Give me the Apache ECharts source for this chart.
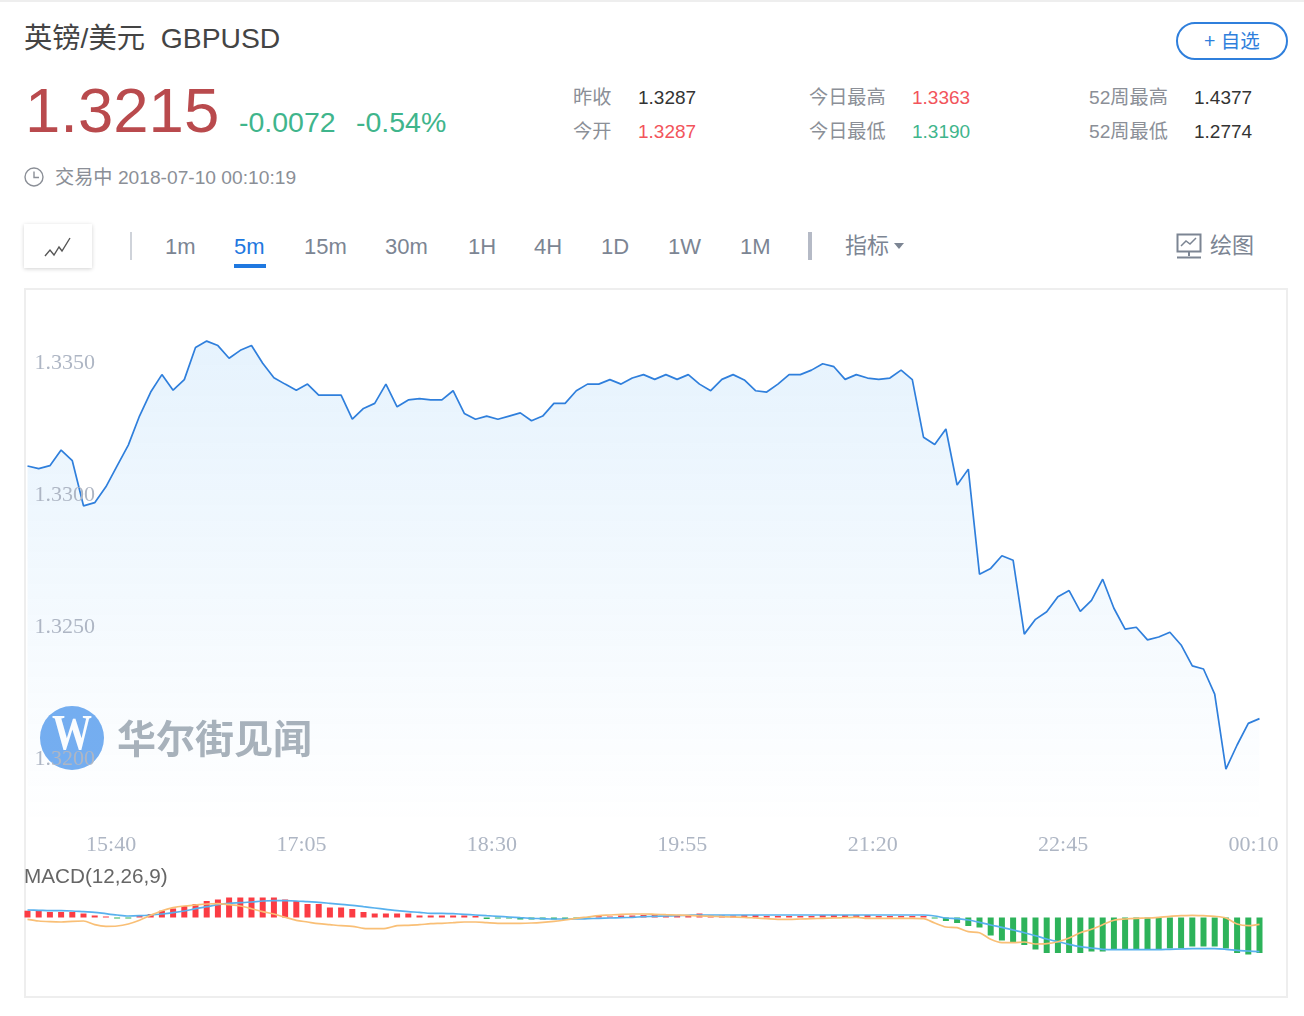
<!DOCTYPE html>
<html><head><meta charset="utf-8">
<script src="https://cdn.jsdelivr.net/npm/echarts@6/dist/echarts.min.js"></script>
<style>
html,body{margin:0;padding:0;width:1304px;height:1016px;overflow:hidden;background:#fff;font-family:"Liberation Sans","Noto Sans CJK SC",sans-serif;}
.t{position:absolute;white-space:nowrap;line-height:1;}
.g{color:#8b8f97;font-size:19.200px}.k{color:#333;font-size:19px}.r{color:#f2545b;font-size:19px}.gn{color:#3fb58c;font-size:19px}
.tab{font-size:22px;color:#7c8593;top:236px}
#main{position:absolute;left:0;top:0;width:1304px;height:1016px}
.box{position:absolute}
</style></head><body>
<div class="box" style="left:0;top:0;width:1304px;height:2px;background:#eeeeee"></div>
<div class="t" style="left:24px;top:24px;font-size:28.300px;color:#444">英镑/美元&nbsp; GBPUSD</div>
<div class="box" style="left:1176px;top:22px;width:108px;height:34px;border:2px solid #2f7fdc;border-radius:19px"></div>
<div class="t" style="left:1204px;top:32px;font-size:19.500px;color:#2f7fdc">+ 自选</div>
<div class="t" style="left:25px;top:79px;font-size:63.500px;color:#b94a4d">1.3215</div>
<div class="t" style="left:239px;top:108px;font-size:28.500px;color:#3fb58c">-0.0072</div>
<div class="t" style="left:356px;top:108px;font-size:28.500px;color:#3fb58c">-0.54%</div>
<div class="t g" style="left:573px;top:88px">昨收</div><div class="t k" style="left:638px;top:88px">1.3287</div>
<div class="t g" style="left:573px;top:122px">今开</div><div class="t r" style="left:638px;top:122px">1.3287</div>
<div class="t g" style="left:809px;top:88px">今日最高</div><div class="t r" style="left:912px;top:88px">1.3363</div>
<div class="t g" style="left:809px;top:122px">今日最低</div><div class="t gn" style="left:912px;top:122px">1.3190</div>
<div class="t g" style="left:1089px;top:88px">52周最高</div><div class="t k" style="left:1194px;top:88px">1.4377</div>
<div class="t g" style="left:1089px;top:122px">52周最低</div><div class="t k" style="left:1194px;top:122px">1.2774</div>
<svg class="box" style="left:24px;top:167px" width="20" height="20" viewBox="0 0 20 20" fill="none" stroke="#8b8f97" stroke-width="1.4"><circle cx="10" cy="10" r="9"/><path d="M10 4.5V10.5H15"/></svg>
<div class="t g" style="left:55px;top:168px">交易中 2018-07-10 00:10:19</div>
<div class="box" style="left:24px;top:224px;width:68px;height:44px;background:#fff;box-shadow:0 1px 4px rgba(0,0,0,.18)"></div>
<svg class="box" style="left:44px;top:236px" width="28" height="24" fill="none" stroke="#555" stroke-width="1.4"><path d="M1 20L6 14L10 19L15 11L18 15L26 2"/></svg>
<div class="box" style="left:130px;top:232px;width:2px;height:28px;background:#cfd3da"></div>
<div class="t tab" style="left:165px">1m</div>
<div class="t tab" style="left:234px;color:#1f78e0">5m</div>
<div class="box" style="left:234px;top:264px;width:32px;height:4px;background:#1f78e0"></div>
<div class="t tab" style="left:304px">15m</div><div class="t tab" style="left:385px">30m</div>
<div class="t tab" style="left:468px">1H</div><div class="t tab" style="left:534px">4H</div>
<div class="t tab" style="left:601px">1D</div><div class="t tab" style="left:668px">1W</div>
<div class="t tab" style="left:740px">1M</div>
<div class="box" style="left:808px;top:232px;width:4px;height:28px;background:#b5bac6"></div>
<div class="t tab" style="left:845px;top:235px">指标</div>
<svg class="box" style="left:894px;top:243px" width="10" height="6"><path d="M0 0H10L5 6Z" fill="#7c8593"/></svg>
<svg class="box" style="left:1176px;top:233px" width="28" height="26" fill="none" stroke="#7c8593" stroke-width="2"><rect x="1.5" y="1.5" width="23" height="17"/><path d="M5 13L10 8L14 11L20 5" stroke-width="1.5"/><path d="M13 19V23M1 24.500H25"/></svg>
<div class="t tab" style="left:1210px;top:235px">绘图</div>
<div class="box" style="left:24px;top:288px;width:1260px;height:706px;border:2px solid #eeeeee"></div>
<div id="main"></div>
<script>
const xTickLabels = ['15:40','17:05','18:30','19:55','21:20','22:45','00:10'];
const yTickValues = [1.32,1.325,1.33,1.335];
const price = [1.33110,1.33100,1.33111,1.33170,1.33130,1.32959,1.32971,1.33031,1.33110,1.33189,1.33299,1.33390,1.33456,1.33397,1.33437,1.33559,1.33583,1.33566,1.33518,1.33548,1.33566,1.33499,1.33444,1.33420,1.33397,1.33420,1.33378,1.33378,1.33378,1.33287,1.33328,1.33347,1.33420,1.33334,1.33360,1.33365,1.33360,1.33360,1.33395,1.33309,1.33287,1.33299,1.33287,1.33299,1.33311,1.33281,1.33299,1.33347,1.33347,1.33395,1.33420,1.33420,1.33437,1.33420,1.33443,1.33456,1.33438,1.33456,1.33438,1.33456,1.33420,1.33395,1.33438,1.33456,1.33436,1.33395,1.33390,1.33420,1.33456,1.33456,1.33473,1.33497,1.33486,1.33438,1.33456,1.33443,1.33438,1.33443,1.33473,1.33437,1.33219,1.33191,1.33250,1.33038,1.33098,1.32700,1.32722,1.32770,1.32753,1.32473,1.32529,1.32558,1.32615,1.32638,1.32559,1.32601,1.32681,1.32571,1.32492,1.32499,1.32451,1.32462,1.32480,1.32432,1.32353,1.32341,1.32246,1.31962,1.32053,1.32135,1.32153];
const macdHist = [.68,.68,.55,.55,.55,.4,.2,.1,-.1,-.1,.15,.35,.68,.9,1.15,1.35,1.65,1.8,2,2,2,2,2,1.8,1.65,1.35,1.35,1,1,.85,.55,.4,.4,.4,.4,.2,.2,
.2,.2,.2,.15,-.15,-.1,-.1,-.2,-.2,-.2,-.2,-.2,-.1,-.05,.15,.1,.2,.2,.25,.25,.15,.2,.25,.4,.2,.2,.2,.25,.25,.15,.15,.15,.15,.15,.25,.25,.25,.25,
.25,.15,.15,.15,.15,.15,-.1,-.35,-.55,-.85,-1,-1.8,-2.3,-2.5,-2.75,-3.2,-3.55,-3.55,-3.55,-3.55,-3.4,-3.4,-3.25,-3.25,-3.25,-3.25,-3.25,-3.1,-3.1,-2.9,-2.9,-2.9,-3.1,-3.55,-3.7,-3.55];
const macdBlue = [.75,.72,.68,.68,.65,.58,.52,.38,.25,.15,.18,.25,.35,.48,.65,.88,1.08,1.28,1.42,1.48,1.55,1.65,1.68,1.68,1.65,1.58,1.52,1.42,1.32,1.22,1.08,.95,.82,.68,.58,.52,.42,
.42,.38,.32,.25,.18,.12,.05,-.02,-.08,-.12,-.15,-.15,-.15,-.12,-.08,-.05,-.02,.02,.08,.12,.15,.18,.22,.25,.25,.25,.25,.25,.25,.25,.25,.25,.25,.25,.25,.25,.25,.25,
.25,.25,.25,.25,.25,.25,.15,-.05,-.12,-.25,-.48,-.75,-.98,-1.25,-1.52,-1.82,-2.15,-2.42,-2.68,-2.92,-3.05,-3.18,-3.22,-3.22,-3.22,-3.22,-3.22,-3.18,-3.15,-3.12,-3.12,-3.12,-3.18,-3.28,-3.35,-3.42];
const macdOrange = [-.18,-.35,-.42,-.45,-.38,-.35,-.72,-.88,-.85,-.65,-.28,.22,.68,.98,1.15,1.25,1.35,1.38,1.28,1.15,.88,.58,.35,.02,-.28,-.45,-.62,-.72,-.82,-.88,-1.08,-1.12,-1.08,-.82,-.78,-.72,-.62,
-.58,-.52,-.45,-.45,-.52,-.58,-.58,-.58,-.55,-.48,-.38,-.25,-.08,.05,.18,.25,.32,.35,.35,.32,.28,.25,.22,.15,.12,.08,.05,.02,-.05,-.12,-.18,-.18,-.15,-.12,-.08,-.05,-.02,.02,
-.08,-.08,-.08,-.08,-.08,-.12,-.55,-.95,-1.02,-1.42,-1.52,-2.18,-2.52,-2.52,-2.45,-2.65,-2.62,-2.42,-2.05,-1.52,-1.18,-.72,-.28,-.15,-.08,-.05,.02,.12,.18,.22,.18,.12,-.05,-.65,-.82,-.68];
const startMinutes = 15*60;
const categories = price.map((_,i)=>{const m=(startMinutes+i*5)%1440;return String(Math.floor(m/60)).padStart(2,'0')+':'+String(m%60).padStart(2,'0');});
const axisColor='#aeb6c4', serif='"Liberation Serif",serif';
const chart = echarts.init(document.getElementById('main'),null,{renderer:'canvas'});
chart.setOption({
  animation:false,
  backgroundColor:'transparent',
  title:{text:'MACD(12,26,9)',left:24,top:867,padding:0,textStyle:{fontSize:20.700,fontWeight:'normal',color:'#666',fontFamily:'"Liberation Sans",sans-serif'}},
  grid:[
    {left:27.5,right:44.5,top:297,height:528,containLabel:false},
    {left:27.5,right:44.5,top:877.5,height:120}
  ],
  xAxis:[
    {type:'category',gridIndex:0,data:categories,boundaryGap:false,
     axisLine:{show:false},axisTick:{show:false},splitLine:{show:false},
     axisLabel:{interval:(i,v)=>xTickLabels.includes(v),color:axisColor,fontSize:22,fontFamily:serif,margin:9,padding:[0,12,0,0]}},
    {type:'category',gridIndex:1,data:categories,boundaryGap:false,show:false}
  ],
  yAxis:[
    {type:'value',gridIndex:0,min:1.3175,max:1.3375,z:5,
     axisLine:{show:false},axisTick:{show:false},splitLine:{show:false},
     axisLabel:{inside:true,margin:7,padding:[4,0,0,0],customValues:yTickValues,formatter:v=>v.toFixed(4),color:axisColor,fontSize:22,fontFamily:serif}},
    {type:'value',gridIndex:1,min:-8,max:4,show:false}
  ],
  graphic:[
    {type:'circle',z:-1,silent:true,shape:{cx:72,cy:738,r:32},style:{fill:'#76aef0'}},
    {type:'text',z:-1,silent:true,x:72,y:736,scaleX:.8,style:{text:'W',fill:'#fff',fontSize:50,fontWeight:'bold',fontFamily:serif,align:'center',verticalAlign:'middle'}},
    {type:'text',z:-1,silent:true,x:117,y:738,style:{text:'华尔街见闻',fill:'#aab2ba',fontSize:39,fontWeight:'bold',fontFamily:'"Noto Sans CJK SC",sans-serif',align:'left',verticalAlign:'middle'}}
  ],
  series:[
    {type:'line',name:'GBPUSD',xAxisIndex:0,yAxisIndex:0,data:price,showSymbol:false,symbol:'none',
     lineStyle:{color:'#2f7fdc',width:1.7},
     areaStyle:{opacity:1,color:new echarts.graphic.LinearGradient(0,0,0,1,[{offset:0,color:'rgba(50,155,240,.12)'},{offset:.55,color:'rgba(50,155,240,.055)'},{offset:1,color:'rgba(50,155,240,0)'}])}},
    {type:'bar',name:'MACD',xAxisIndex:1,yAxisIndex:1,data:macdHist,barWidth:6,clip:false,
     itemStyle:{color:p=>p.value>=0?'#fb3c44':'#2db35a'}},
    {type:'line',name:'DIF',xAxisIndex:1,yAxisIndex:1,data:macdBlue,showSymbol:false,symbol:'none',smooth:.3,lineStyle:{color:'#58b1ee',width:1.7}},
    {type:'line',name:'DEA',xAxisIndex:1,yAxisIndex:1,data:macdOrange,showSymbol:false,symbol:'none',smooth:.3,lineStyle:{color:'#f9bf76',width:1.7}}
  ]
});
</script>
</body></html>
